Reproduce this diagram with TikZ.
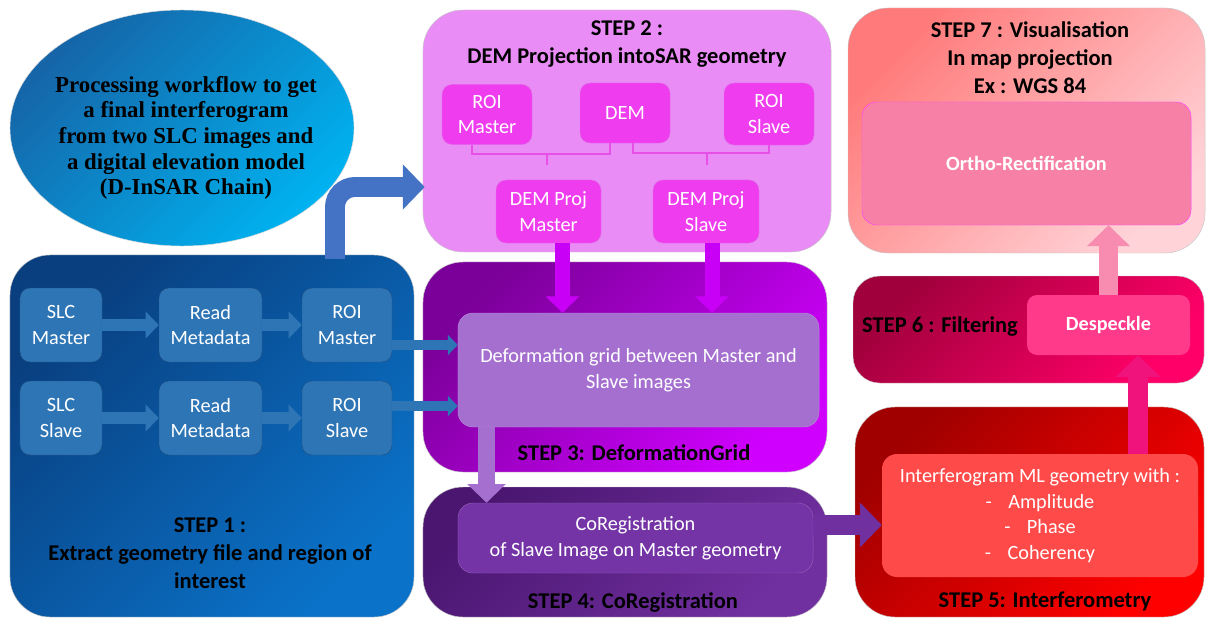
\documentclass[tikz,border=0pt]{standalone}
\usepackage{fontspec}
\setmainfont{Carlito}
\newfontfamily\ellipsefont{Liberation Serif}
\usepackage{tikz}
\usetikzlibrary{shapes,arrows.meta,backgrounds}

\definecolor{ellA}{HTML}{1565A8}
\definecolor{ellB}{HTML}{00B2F0}
\definecolor{stepOneA}{HTML}{093F7F}
\definecolor{stepOneB}{HTML}{0A72C8}
\definecolor{stepOneBlock}{HTML}{2E75B6}
\definecolor{stepOneEdge}{HTML}{1F4F80}
\definecolor{bendArrow}{HTML}{4472C4}
\definecolor{stepTwoFill}{HTML}{EA8CF6}
\definecolor{stepTwoBlock}{HTML}{EF3CEF}
\definecolor{stepTwoEdge}{HTML}{E070E8}
\definecolor{bracketCol}{HTML}{E650E6}
\definecolor{projArrow}{HTML}{C800F6}
\definecolor{stepThreeA}{HTML}{7B0099}
\definecolor{stepThreeB}{HTML}{D000FF}
\definecolor{deformFill}{HTML}{A56FD0}
\definecolor{stepFourA}{HTML}{4A1670}
\definecolor{stepFourB}{HTML}{7130A0}
\definecolor{coregFill}{HTML}{7434A6}
\definecolor{coregArrow}{HTML}{7030A0}
\definecolor{stepFiveA}{HTML}{A00000}
\definecolor{stepFiveB}{HTML}{FF0000}
\definecolor{interfFill}{HTML}{FF4A4A}
\definecolor{interfArrow}{HTML}{F0137C}
\definecolor{stepSixA}{HTML}{A0003C}
\definecolor{stepSixB}{HTML}{FF0068}
\definecolor{despeckleFill}{HTML}{FF3A8A}
\definecolor{despeckleArrow}{HTML}{F78BB0}
\definecolor{stepSevenA}{HTML}{FF7A7A}
\definecolor{stepSevenB}{HTML}{FFD3D8}
\definecolor{orthoFill}{HTML}{F781A6}
\definecolor{orthoEdge}{HTML}{FF40FF}

\begin{document}
\begin{tikzpicture}[x=0.03cm,y=-0.03cm]

\pgfdeclarelayer{background}
\pgfdeclarelayer{foreground}
\pgfsetlayers{background,main,foreground}

\tikzstyle{stepbox} = [draw=gray!45, thin, rounded corners=1.2cm, inner sep=0pt]
\tikzstyle{block} = [text centered, align=center, rounded corners=0.3cm, inner sep=0pt, text=white, font=\fontsize{17.3}{22}\selectfont]
\tikzstyle{s1block} = [block, fill=stepOneBlock, draw=stepOneEdge, minimum height=2.22cm]
\tikzstyle{s2block} = [block, fill=stepTwoBlock, draw=stepTwoEdge, minimum height=1.8cm]
\tikzstyle{wideblock} = [block, rounded corners=0.45cm]
\tikzstyle{steptext} = [text centered, align=center, font=\bfseries\fontsize{19.2}{23.8}\selectfont]
\tikzstyle{bracket} = [draw=bracketCol, line width=1.7pt]

\tikzset{
  block arrow/.style args={#1 colored by #2}{
    -{Triangle[length=0pt 1.1,width=0pt 2.2]},line width=#1,draw=#2, % flat block arrow
  }
}

\useasboundingbox (0,0) rectangle (1206,619);

\coordinate (anchor) at (0,0);

\begin{pgfonlayer}{background}

\path (anchor)+(212,436) node (step1_box) [stepbox, minimum width=12.12cm, minimum height=10.86cm, top color=stepOneA, bottom color=stepOneB, shading angle=45] {};
\path (anchor)+(627,131) node (step2_box) [stepbox, minimum width=12.24cm, minimum height=7.26cm, fill=stepTwoFill] {};
\path (anchor)+(625,367) node (step3_box) [stepbox, minimum width=12.12cm, minimum height=6.3cm, top color=stepThreeA, bottom color=stepThreeB, shading angle=45] {};
\path (anchor)+(625,552) node (step4_box) [stepbox, minimum width=12.12cm, minimum height=3.9cm, top color=stepFourA, bottom color=stepFourB, shading angle=45] {};
\path (anchor)+(1029.5,512) node (step5_box) [stepbox, minimum width=10.47cm, minimum height=6.3cm, top color=stepFiveA, bottom color=stepFiveB, shading angle=45] {};
\path (anchor)+(1028.5,329.5) node (step6_box) [stepbox, rounded corners=0.8cm, minimum width=10.53cm, minimum height=3.21cm, top color=stepSixA, bottom color=stepSixB, shading angle=45] {};
\path (anchor)+(1026.5,130.5) node (step7_box) [stepbox, minimum width=10.71cm, minimum height=7.35cm, top color=stepSevenA, bottom color=stepSevenB, shading angle=45] {};

\end{pgfonlayer}

%Title ellipse: top left

\path (anchor)+(182,128) node (goal) [ellipse, minimum width=10.32cm, minimum height=7.08cm, inner sep=0pt, draw=gray!30, top color=ellA, bottom color=ellB, shading angle=45] {};

\path (goal.center)+(4,10) node (goal_text) [text centered, align=center, font=\ellipsefont\bfseries\fontsize{19.5}{21.9}\selectfont] {Processing workflow to get\\
	a final interferogram\\
	from two SLC images and\\
	a digital elevation model\\
	(D-InSAR Chain)};

%Step 1: bottom left

\path (anchor)+(61,325) node (slc_master) [s1block, minimum width=2.46cm] {SLC\\Master};
\path (slc_master)+(149.5,0) node (read_master) [s1block, minimum width=3.09cm] {Read\\Metadata};
\path (read_master)+(136.5,0) node (roi_master) [s1block, minimum width=2.7cm] {ROI\\Master};

\path (slc_master)+(0,93) node (slc_slave) [s1block, minimum width=2.46cm] {SLC\\Slave};
\path (slc_slave)+(149.5,0) node (read_slave) [s1block, minimum width=3.09cm] {Read\\Metadata};
\path (read_slave)+(136.5,0) node (roi_slave) [s1block, minimum width=2.7cm] {ROI\\Slave};

\path (anchor)+(210,553) node (step1_text) [steptext] {STEP 1 :\\
	Extract geometry file and region of\\
	interest};

%Step 2: top middle

\path (anchor)+(627,44) node (step2_text) [steptext] {STEP 2 :\\
	DEM Projection intoSAR geometry};

\path (anchor)+(487,114.5) node (roi_m2) [s2block, minimum width=2.7cm] {ROI\\Master};
\path (anchor)+(625,113) node (dem) [s2block, minimum width=2.7cm] {DEM};
\path (anchor)+(769,114) node (roi_s2) [s2block, minimum width=2.7cm, minimum height=1.86cm] {ROI\\Slave};

\path (anchor)+(548.5,211.5) node (proj_master) [s2block, minimum width=3.15cm, minimum height=1.89cm] {DEM Proj\\Master};
\path (anchor)+(706,211.5) node (proj_slave) [s2block, minimum width=3.18cm, minimum height=1.89cm] {DEM Proj\\Slave};

%Step 3: middle

\path (anchor)+(638.5,370) node (deform) [wideblock, fill=deformFill, draw=deformFill!80!white, minimum width=10.83cm, minimum height=3.42cm] {Deformation grid between Master and\\
	Slave images};

\path (anchor)+(634,453) node (step3_text) [steptext] {STEP 3: DeformationGrid};

%Step 4: bottom middle

\path (anchor)+(635.5,538) node (coreg) [wideblock, fill=coregFill, draw=coregFill!80!white, minimum width=10.65cm, minimum height=2.1cm] {CoRegistration\\
	of Slave Image on Master geometry};

\path (anchor)+(633,602) node (step4_text) [steptext] {STEP 4: CoRegistration};

%Step 5: bottom right

\path (anchor)+(1040,515.5) node (interf) [wideblock, fill=interfFill, minimum width=9.48cm, minimum height=3.69cm] {Interferogram ML geometry with :\\
	-\hspace{14pt}Amplitude\\
	-\hspace{14pt}Phase\\
	-\hspace{14pt}Coherency};

\path (anchor)+(1045,601) node (step5_text) [steptext] {STEP 5: Interferometry};

%Step 6: middle right

\path (anchor)+(1108.5,325) node (despeckle) [block, font=\bfseries\fontsize{17.2}{22}\selectfont, fill=despeckleFill, minimum width=4.89cm, minimum height=1.8cm] {Despeckle};

\path (anchor)+(940,327) node (step6_text) [steptext] {STEP 6 : Filtering};

%Step 7: top right

\path (anchor)+(1030,58) node (step7_text) [steptext] {STEP 7 : Visualisation\\
	In map projection\\
	Ex : WGS 84};

\path (anchor)+(1026.5,163.5) node (ortho) [wideblock, font=\bfseries\fontsize{17.3}{22}\selectfont, fill=orthoFill, draw=orthoEdge, minimum width=9.87cm, minimum height=3.69cm] {Ortho-Rectification};

%Brackets

\draw [bracket] (roi_m2.south) ++(-15,0) -- ++(0,9) -| ([xshift=-0.45cm]dem.south);
\draw [bracket] ([xshift=0.24cm]dem.south) -- ++(0,10) -| (roi_s2.south);
\draw [bracket] (proj_master.north) ++(-2,-15) -- ++(0,-12);
\draw [bracket] (proj_slave.north) ++(1,-15) -- ++(0,-12);

%Arrows

\draw [block arrow=10.2pt colored by stepOneBlock] (slc_master) -- (read_master);
\draw [block arrow=10.2pt colored by stepOneBlock] (read_master) -- (roi_master);
\draw [block arrow=10.2pt colored by stepOneBlock] (slc_slave) -- (read_slave);
\draw [block arrow=10.2pt colored by stepOneBlock] (read_slave) -- (roi_slave);

\path (roi_master.east)+(0,20) coordinate (arrow_1l);
\draw [block arrow=7.7pt colored by stepOneBlock] (arrow_1l) -- (deform.west |- arrow_1l);

\path (roi_slave.east)+(0,-12) coordinate (arrow_2l);
\draw [block arrow=7.7pt colored by stepOneBlock] (arrow_2l) -- (deform.west |- arrow_2l);

\path (step1_box.north)+(123,4) coordinate (bend_l);
\path (step2_box.west)+(2,56) coordinate (bend_r);
\draw [block arrow=17pt colored by bendArrow, rounded corners=0.6cm] (bend_l) |- (bend_r);

\path (proj_master.south)+(14,0) coordinate (arrow_3l);
\draw [block arrow=12.8pt colored by projArrow] (arrow_3l) -- (arrow_3l |- deform.north);

\path (proj_slave.south)+(6,0) coordinate (arrow_4l);
\draw [block arrow=12.8pt colored by projArrow] (arrow_4l) -- (arrow_4l |- deform.north);

\path (deform.south)+(-152,0) coordinate (arrow_5l);
\draw [block arrow=14.5pt colored by deformFill] (arrow_5l) -- (arrow_5l |- coreg.north);

\path (coreg.east)+(0,-13) coordinate (arrow_6l);
\draw [block arrow=17pt colored by coregArrow] (arrow_6l) -- (interf.west |- arrow_6l);

\path (interf.north)+(98,0) coordinate (arrow_7l);
\draw [block arrow=17pt colored by interfArrow] (arrow_7l) -- (arrow_7l |- despeckle.south);

\draw [block arrow=16.2pt colored by despeckleArrow] (despeckle.north) -- (despeckle.north |- ortho.south);

\end{tikzpicture}
\end{document}
